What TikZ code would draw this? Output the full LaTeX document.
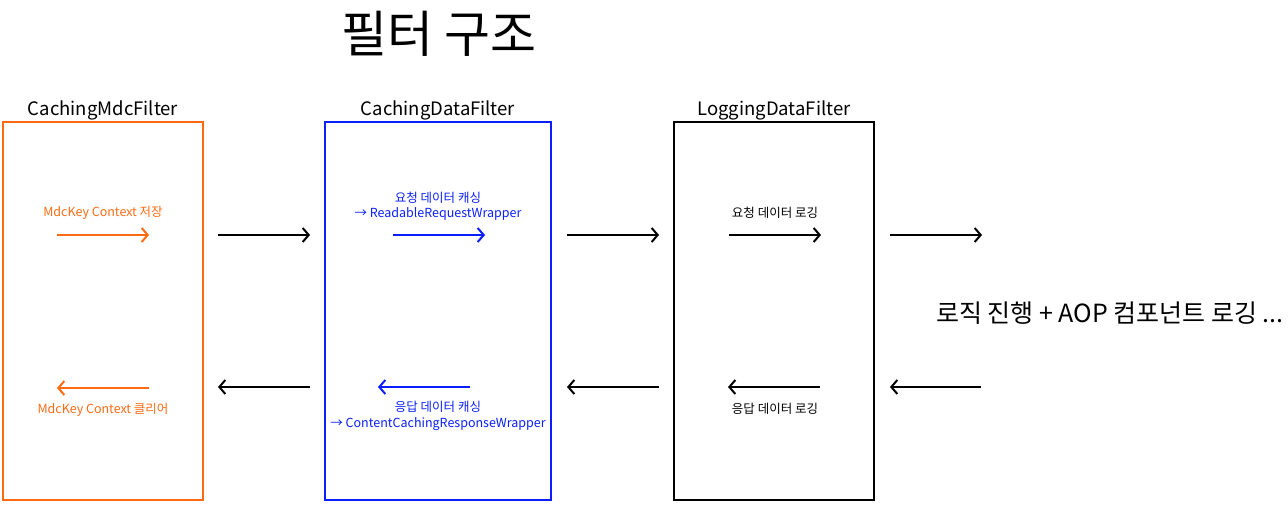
\documentclass[tikz,border=0pt]{standalone}
\usepackage{fontspec}
\setmainfont{Noto Sans CJK KR}
\usetikzlibrary{arrows.meta}
\definecolor{mdcorange}{RGB}{255,106,19}
\definecolor{datablue}{RGB}{10,30,255}
\tikzset{
  filterbox/.style={draw, line width=2pt},
  flow/.style={line width=2pt, -{Straight Barb[length=6pt,width=14pt,line width=2pt]}},
  boxtitle/.style={font=\fontsize{18.5}{22}\selectfont, inner sep=0pt},
  small/.style={font=\fontsize{12.5}{15.5}\selectfont, inner sep=0pt, align=center},
}
\begin{document}
\begin{tikzpicture}[x=1pt,y=-1pt]
\useasboundingbox (0,0) rectangle (1288,505);
\node[inner sep=0pt, font=\fontsize{50}{56}\selectfont] (title) at (439,34) {필터 구조};

% boxes
\node[filterbox, draw=mdcorange, minimum width=200pt, minimum height=378pt, inner sep=0pt] (mdc) at (103,311) {};
\node[filterbox, draw=datablue, minimum width=226pt, minimum height=378pt, inner sep=0pt] (cache) at (438,311) {};
\node[filterbox, draw=black, minimum width=200pt, minimum height=378pt, inner sep=0pt] (log) at (774,311) {};

\node[boxtitle] (mdct) at (103,110) {CachingMdcFilter};
\node[boxtitle] (cachet) at (438,110) {CachingDataFilter};
\node[boxtitle] (logt) at (774,110) {LoggingDataFilter};

% orange
\coordinate (o1a) at (57,235); \coordinate (o1b) at (149,235);
\draw[flow, mdcorange] (o1a) -- (o1b);
\node[small, text=mdcorange] (o1l) at (103,213) {MdcKey Context 저장};
\coordinate (o2a) at (149,388); \coordinate (o2b) at (57,388);
\draw[flow, mdcorange] (o2a) -- (o2b);
\node[small, text=mdcorange] (o2l) at (103,410) {MdcKey Context 클리어};

% blue
\coordinate (b1a) at (393,235); \coordinate (b1b) at (485,235);
\draw[flow, datablue] (b1a) -- (b1b);
\node[small, text=datablue] (b1l) at (438,206) {요청 데이터 캐싱\\→ ReadableRequestWrapper};
\coordinate (b2a) at (470,387); \coordinate (b2b) at (378,387);
\draw[flow, datablue] (b2a) -- (b2b);
\node[small, text=datablue] (b2l) at (438,416) {응답 데이터 캐싱\\→ ContentCachingResponseWrapper};

% black inner
\coordinate (k1a) at (729,235); \coordinate (k1b) at (821,235);
\draw[flow] (k1a) -- (k1b);
\node[small] (k1l) at (775,213) {요청 데이터 로깅};
\coordinate (k2a) at (820,387); \coordinate (k2b) at (728,387);
\draw[flow] (k2a) -- (k2b);
\node[small] (k2l) at (775,409) {응답 데이터 로깅};

% between
\coordinate (r1a) at (218,235); \coordinate (r1b) at (310,235);
\coordinate (r2a) at (567,235); \coordinate (r2b) at (659,235);
\coordinate (r3a) at (890,235); \coordinate (r3b) at (982,235);
\draw[flow] (r1a) -- (r1b);
\draw[flow] (r2a) -- (r2b);
\draw[flow] (r3a) -- (r3b);
\coordinate (l1a) at (310,387); \coordinate (l1b) at (218,387);
\coordinate (l2a) at (659,387); \coordinate (l2b) at (567,387);
\coordinate (l3a) at (981,387); \coordinate (l3b) at (890,387);
\draw[flow] (l1a) -- (l1b);
\draw[flow] (l2a) -- (l2b);
\draw[flow] (l3a) -- (l3b);

\node[inner sep=0pt, font=\fontsize{25}{29}\selectfont, anchor=west] (logic) at (936,313) {로직 진행 + AOP 컴포넌트 로깅 ...};
\end{tikzpicture}
\end{document}
